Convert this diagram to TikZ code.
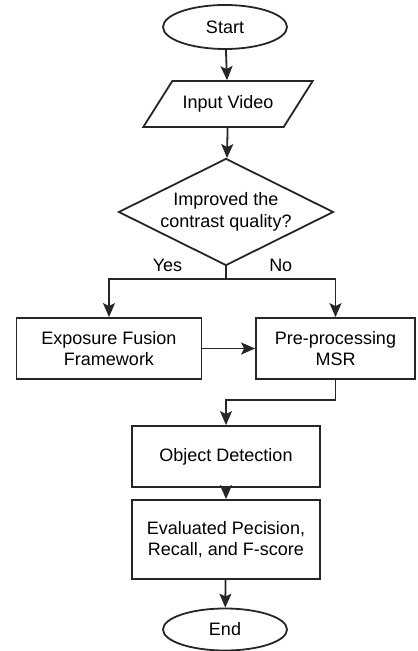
\documentclass[tikz,border=0pt]{standalone}
\usepackage{fontspec}
\setmainfont{Liberation Sans}
\usetikzlibrary{shapes.geometric,arrows.meta}

\begin{document}
\begin{tikzpicture}[x=0.5pt, y=-0.5pt, line width=0.9pt, draw=black!85,
  font=\fontsize{9}{10.8}\selectfont,
  terminal/.style={draw, ellipse, minimum width=62pt, minimum height=22pt, inner sep=0pt},
  inout/.style={draw, trapezium, trapezium left angle=48, trapezium right angle=132,
    trapezium stretches=true, minimum width=85pt, minimum height=23pt},
  decision/.style={draw, diamond, aspect=2, minimum width=107.5pt, minimum height=53.5pt,
    inner sep=0pt, align=center},
  process/.style={draw, rectangle, align=center, minimum height=30.5pt},
  flow/.style={-{Stealth[length=7pt,width=6pt,inset=1.5pt]}}]
\useasboundingbox (0,0) rectangle (417,651);
\node[terminal] (start) at (225, 27) {Start};
\node[inout] (input) at (228, 104) {Input Video};
\node[decision] (improved) at (226, 212) {Improved the\\contrast quality?};
\node[process, minimum width=92.5pt] (fusion) at (109, 348.5) {Exposure Fusion\\Framework};
\node[process, minimum width=79.5pt] (msr) at (335.5, 348.5) {Pre-processing\\MSR};
\node[process, minimum width=94pt] (detect) at (226, 456.5) {Object Detection};
\node[process, minimum width=94pt, minimum height=39.5pt] (score) at (226, 539.5) {Evaluated Pecision,\\Recall, and F-score};
\node[terminal, minimum height=21pt] (end) at (225, 629.5) {End};

\draw[flow] (start) -- (input);
\draw[flow] (input) -- (improved);
\draw (improved.south) -- ++(0, 13) coordinate (fork);
\draw[flow] (fork) -| node[pos=0.25, above] {Yes} (fusion.north);
\draw[flow] (fork) -| node[pos=0.25, above] {No} (msr.north);
\draw[flow] (fusion) -- (msr);
\draw[flow] (msr.south) -- ++(0, 20) -| (detect.north);
\draw[flow] (detect) -- (score);
\draw[flow] (score) -- (end);
\end{tikzpicture}
\end{document}
